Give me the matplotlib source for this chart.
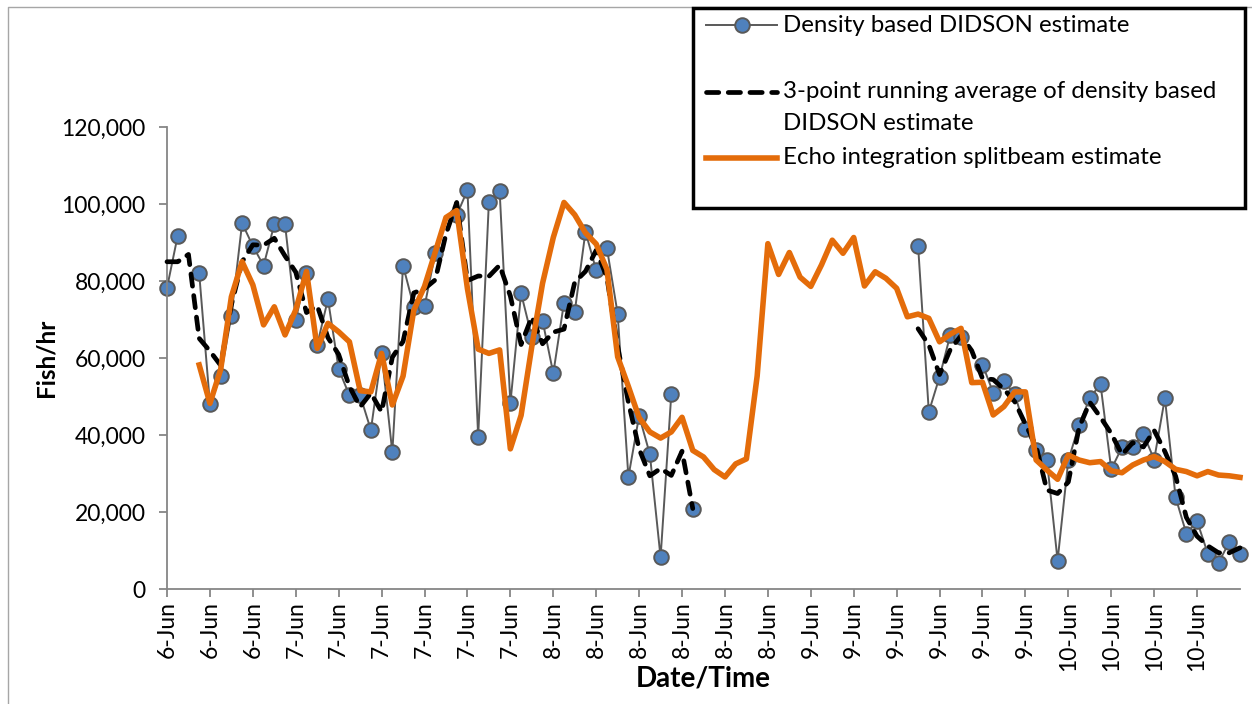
import numpy as np
import matplotlib.pyplot as plt
from matplotlib.lines import Line2D
from matplotlib.patches import Rectangle
from matplotlib.ticker import FuncFormatter

plt.rcParams['font.family'] = ['Lato', 'DejaVu Sans']

nan = np.nan

# fish per hour (thousands), one value per hour, 6-Jun .. 10-Jun
didson = [78.2, 91.8, nan, 82.0, 48.1, 55.3, 71.0, 95.0, 89.1, 84.0,
          94.7, 94.7, 70.0, 82.1, 63.4, 75.3, 57.1, 50.3, 50.3, 41.3,
          61.2, 35.5, 84.0, 73.3, 73.4, 87.2, nan, 97.1, 103.6, 39.6,
          100.6, 103.4, 48.2, 76.8, 65.5, 69.7, 56.0, 74.4, 72.0, 92.8,
          82.8, 88.5, 71.5, 29.1, 45.0, 35.0, 8.2, 50.7, nan, 20.9,
          nan, nan, nan, nan, nan, nan, nan, nan, nan, nan,
          nan, nan, nan, nan, nan, nan, nan, nan, nan, nan,
          89.1, 46.0, 55.1, 66.0, 65.5, nan, 58.3, 51.0, 54.0, 50.6,
          41.6, 36.1, 33.6, 7.4, 33.4, 42.6, 49.6, 53.2, 31.1, 36.8,
          36.9, 40.3, 33.6, 49.6, 23.8, 14.4, 17.6, 9.2, 6.8, 12.2,
          9.2]

running_avg = [85.0, 85.0, 86.9, 65.1, 61.8, 58.1, 73.8, 85.0, 89.4, 89.3,
               91.1, 86.5, 82.3, 71.8, 73.6, 65.3, 60.9, 52.6, 47.3, 50.9,
               46.0, 60.2, 64.3, 76.9, 78.0, 80.3, 92.2, 100.4, 80.1, 81.3,
               81.2, 84.1, 76.1, 63.5, 70.7, 63.7, 66.7, 67.5, 79.7, 82.5,
               88.0, 80.9, 63.0, 48.5, 36.4, 29.4, 31.3, 29.5, 35.8, 20.9,
               nan, nan, nan, nan, nan, nan, nan, nan, nan, nan,
               nan, nan, nan, nan, nan, nan, nan, nan, nan, nan,
               67.6, 63.4, 55.7, 62.2, 65.8, 61.9, 54.7, 54.4, 51.9, 48.7,
               42.8, 37.1, 25.7, 24.8, 27.8, 41.9, 48.5, 44.6, 40.4, 34.9,
               38.0, 36.9, 41.2, 35.7, 29.3, 18.6, 13.7, 11.2, 9.4, 9.4,
               10.7]

splitbeam = [nan, nan, nan, 58.2, 48.2, 57.0, 75.9, 85.0, 79.0, 68.6,
             73.3, 66.0, 72.5, 82.5, 62.5, 69.0, 66.8, 64.2, 51.5, 51.2,
             61.2, 47.8, 55.3, 72.4, 78.6, 87.5, 96.5, 98.3, 78.0, 62.3,
             61.2, 62.1, 36.4, 45.1, 63.0, 79.4, 91.3, 100.4, 97.2, 92.5,
             89.6, 83.0, 60.3, 52.6, 44.5, 40.8, 39.2, 40.8, 44.6, 36.0,
             34.3, 31.0, 29.1, 32.5, 33.8, 55.3, 89.7, 81.7, 87.4, 81.0,
             78.6, 84.2, 90.6, 87.2, 91.3, 78.7, 82.4, 80.7, 78.1, 70.7,
             71.4, 70.3, 64.2, 66.2, 67.7, 53.6, 53.7, 45.2, 47.4, 51.2,
             51.2, 33.5, 30.9, 28.5, 34.8, 33.5, 32.8, 33.1, 30.7, 30.2,
             32.2, 33.5, 34.4, 33.1, 31.1, 30.5, 29.4, 30.5, 29.6, 29.4,
             29.0]

# one label every 4 hours
tick_labels = ['6-Jun', '6-Jun', '6-Jun',
               '7-Jun', '7-Jun', '7-Jun', '7-Jun', '7-Jun', '7-Jun',
               '8-Jun', '8-Jun', '8-Jun', '8-Jun', '8-Jun', '8-Jun',
               '9-Jun', '9-Jun', '9-Jun', '9-Jun', '9-Jun', '9-Jun',
               '10-Jun', '10-Jun', '10-Jun', '10-Jun']

legend_labels = ['Density based DIDSON estimate',
                 '3-point running average of density based\nDIDSON estimate',
                 'Echo integration splitbeam estimate']

W, H = 1252, 704
x = np.arange(len(didson))

fig = plt.figure(figsize=(W / 100, H / 100), dpi=100)
ax = fig.add_axes([167 / W, 1 - 589 / H, (1240 - 167) / W, (589 - 127) / H])

blue = dict(color='#595959', lw=1.4, marker='o', ms=10.5,
            mfc='#4F81BD', mec='#595959', mew=1.4)
dash = dict(color='black', lw=3.4, ls=(0, (2.6, 2.0)), dash_capstyle='round')
orange = dict(color='#E46C0A', lw=4.0, solid_joinstyle='round')

ax.plot(x, np.array(didson) * 1000, zorder=2, clip_on=False, **blue)
ax.plot(x, np.array(running_avg) * 1000, zorder=3, clip_on=False, **dash)
ax.plot(x, np.array(splitbeam) * 1000, zorder=4, clip_on=False, **orange)

ax.set_xlim(0, len(didson) - 1)
ax.set_ylim(0, 120000)
ax.set_yticks(range(0, 120001, 20000))
ax.yaxis.set_major_formatter(FuncFormatter(lambda v, p: f'{v:,.0f}'))
ax.set_xticks(range(0, 4 * len(tick_labels), 4))
ax.set_xticklabels(tick_labels, rotation=90)

for side in ['top', 'right']:
    ax.spines[side].set_visible(False)
for side in ['left', 'bottom']:
    ax.spines[side].set_color('#868686')
    ax.spines[side].set_linewidth(1.3)
ax.tick_params(axis='both', direction='out', length=5.5, width=1.3, color='#868686')
ax.tick_params(axis='y', labelsize=16.5, pad=10)
ax.tick_params(axis='x', labelsize=16.5, pad=3)

ax.set_ylabel('Fish/hr', fontsize=17.5, fontweight='bold')
ax.yaxis.label.set_va('center')
ax.yaxis.set_label_coords((46 - 167) / 1073, 0.5)
ax.set_xlabel('Date/Time', fontsize=20, fontweight='bold')
ax.xaxis.label.set_va('center')
ax.xaxis.set_label_coords(0.5, -(678 - 589) / 462)


def fx(px):
    return px / W


def fy(py):
    return 1 - py / H


# light chart-area border, cut off by the image at right and bottom
fig.add_artist(Line2D([fx(8), fx(8), fx(W + 5)], [fy(H + 5), fy(7), fy(7)],
                      transform=fig.transFigure, color='#A6A6A6', lw=1.0))

# legend drawn by hand so that rows sit where the original has them
fig.add_artist(Rectangle((fx(693), fy(208)), fx(1245 - 693), (208 - 8) / H,
                         transform=fig.transFigure, fill=False,
                         edgecolor='black', lw=2.5, zorder=5))
handle_rows = [25, 92, 158]
for hy, style, label in zip(handle_rows, [blue, dash, orange], legend_labels):
    st = dict(style)
    mk = st.pop('marker', None)
    fig.add_artist(Line2D([fx(706), fx(777)], [fy(hy), fy(hy)],
                          transform=fig.transFigure, **st))
    if mk:
        fig.add_artist(Line2D([fx(741.5)], [fy(hy)], transform=fig.transFigure,
                              marker=mk, ls='none', ms=st['ms'], mfc=st['mfc'],
                              mec=st['mec'], mew=st['mew']))
    for k, line in enumerate(label.split('\n')):
        fig.text(fx(783), fy(hy + 32 * k), line, fontsize=17.3,
                 va='center', ha='left')

fig.savefig('out.png', dpi=100, facecolor='white')
